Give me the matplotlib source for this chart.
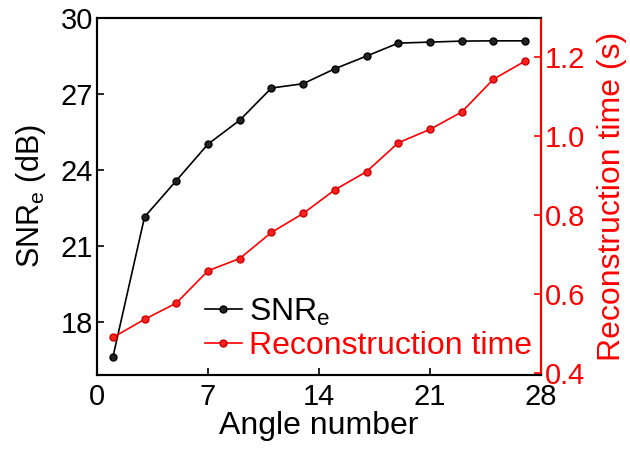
import matplotlib
matplotlib.use("Agg")
import matplotlib.pyplot as plt

plt.rcParams["font.family"] = ["Liberation Sans", "DejaVu Sans"]
plt.rcParams["mathtext.fontset"] = "custom"
plt.rcParams["mathtext.rm"] = "Liberation Sans"
plt.rcParams["mathtext.it"] = "Liberation Sans"

# 数据
angle_number = [1, 3, 5, 7, 9, 11, 13, 15, 17, 19, 21, 23, 25, 27]
snr_e = [16.63, 22.16, 23.59, 25.03, 25.97, 27.24, 27.41, 28.0, 28.5, 29.01, 29.05, 29.09, 29.1, 29.1]
recon_time = [0.491, 0.537, 0.578, 0.660, 0.691, 0.757, 0.805, 0.865, 0.911, 0.984, 1.018, 1.062, 1.145, 1.191]

x_ticks = [0, 7, 14, 21, 28]
left_ticks = [18, 21, 24, 27, 30]
right_ticks = [0.4, 0.6, 0.8, 1.0, 1.2]

fig = plt.figure(figsize=(6.3, 4.49), dpi=100)
ax = fig.add_axes([97 / 630, 1 - 375 / 449, (541 - 97) / 630, (375 - 18) / 449])
ax2 = ax.twinx()

l1, = ax.plot(angle_number, snr_e, color="black", lw=1.2, marker="o", ms=5,
              mfc="#222222", mec="black", label="SNR$_\\mathrm{e}$")
l2, = ax2.plot(angle_number, recon_time, color="red", lw=1.2, marker="o", ms=5,
               mfc="#ff2020", mec="#cc0000", label="Reconstruction time")

ax.set_xlim(0, 28)
ax.set_ylim(15.93, 30)
ax2.set_ylim(0.396, 1.30)
ax.set_xticks(x_ticks)
ax.set_yticks(left_ticks)
ax2.set_yticks(right_ticks)
ax2.set_yticklabels(["0.4", "0.6", "0.8", "1.0", "1.2"])

fs_tick = 21
fs_lab = 23
ax.tick_params(direction="in", labelsize=fs_tick, length=5, width=1.2, pad=3)
ax.tick_params(axis="x", pad=6)
ax2.tick_params(direction="in", labelsize=fs_tick, length=5, width=1.2, colors="red", pad=3)
for s in ax.spines.values():
    s.set_linewidth(1.5)
for s in ax2.spines.values():
    s.set_linewidth(1.5)
ax2.spines["right"].set_color("red")

ax.set_xlabel("Angle number", fontsize=fs_lab, labelpad=0)
ax.set_ylabel("SNR$_\\mathrm{e}$ (dB)", fontsize=22, labelpad=9)
ax2.set_ylabel("Reconstruction time (s)", fontsize=23, color="red", labelpad=8)

leg = ax.legend([l1, l2], [l1.get_label(), l2.get_label()], loc="lower left",
                bbox_to_anchor=(0.243, 0.04), frameon=False, fontsize=fs_lab,
                handlelength=1.15, handletextpad=0.22, labelspacing=0.1,
                borderpad=0, borderaxespad=0)
leg.get_texts()[1].set_color("red")

fig.savefig("out.png", dpi=100)
